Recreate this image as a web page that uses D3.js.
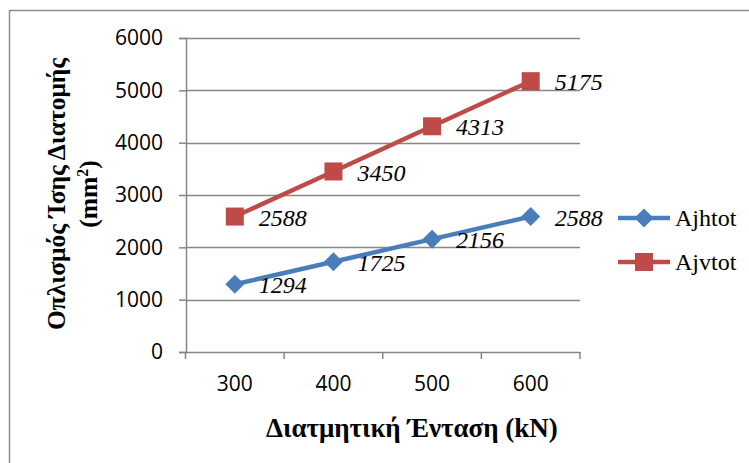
<!DOCTYPE html>
<html>
<head>
<meta charset="utf-8">
<script src="https://cdn.jsdelivr.net/npm/d3@7/dist/d3.min.js"></script>
<style>
  html, body { margin: 0; padding: 0; background: #fff; }
  svg { display: block; }
  .serif { font-family: "Liberation Serif", Tinos, "Times New Roman", Times, "DejaVu Serif", serif; }
  .sans { font-family: "Open Sans", sans-serif; }
</style>
</head>
<body>
<script>
// Shear force categories (kN) and reinforcement area series (mm²)
const categories = [300, 400, 500, 600];
const ajhtot = [1294, 1725, 2156, 2588];
const ajvtot = [2588, 3450, 4313, 5175];
const yTicks = [0, 1000, 2000, 3000, 4000, 5000, 6000];

const seriesNames = ["Ajhtot", "Ajvtot"];
const seriesColors = ["#4a7ebb", "#be4b48"];

const W = 749, H = 463;
const svg = d3.select("body").append("svg").attr("width", W).attr("height", H);

// outer chart frame
svg.append("rect")
  .attr("x", 9.5).attr("y", 10.5)
  .attr("width", 780).attr("height", 500)
  .attr("fill", "#fff").attr("stroke", "#8c8c8c").attr("stroke-width", 1.5);

const plot = { left: 186, right: 580, top: 38, bottom: 352 };

const x = d3.scaleBand().domain(categories).range([plot.left - 0.5, plot.right]).padding(0);
const y = d3.scaleLinear().domain([0, 6000]).range([plot.bottom, plot.top]);
const cx = d => x(d) + x.bandwidth() / 2;

const gridColor = "#868686";

// horizontal gridlines
svg.append("g").selectAll("line").data(yTicks.filter(t => t > 0)).join("line")
  .attr("x1", plot.left).attr("x2", plot.right)
  .attr("y1", d => Math.round(y(d)) + 0.5).attr("y2", d => Math.round(y(d)) + 0.5)
  .attr("stroke", gridColor).attr("stroke-width", 1.5);

// y axis
const yAxis = svg.append("g")
  .attr("transform", `translate(${plot.left},0)`)
  .call(d3.axisLeft(y).tickValues(yTicks).tickSize(7).tickPadding(16).tickFormat(d3.format("d")));
yAxis.attr("font-family", null);
yAxis.select(".domain").attr("stroke", gridColor).attr("stroke-width", 1.5);
yAxis.selectAll(".tick line").attr("stroke", gridColor).attr("stroke-width", 1.5);
yAxis.selectAll(".tick text")
  .attr("class", "sans").attr("font-size", 21).attr("fill", "#000");

// x axis
const xAxis = svg.append("g")
  .attr("transform", `translate(0,${plot.bottom})`)
  .call(d3.axisBottom(x).tickSize(0).tickPadding(24));
xAxis.attr("font-family", null);
xAxis.select(".domain").attr("stroke", gridColor).attr("stroke-width", 1.5);
xAxis.selectAll(".tick text")
  .attr("class", "sans").attr("font-size", 21).attr("fill", "#000");
// category boundary tick marks
const bounds = categories.map(c => x(c)).concat([x(categories[categories.length - 1]) + x.bandwidth()]);
xAxis.append("g").selectAll("line").data(bounds).join("line")
  .attr("x1", d => d).attr("x2", d => d)
  .attr("y1", 0).attr("y2", 7)
  .attr("stroke", gridColor).attr("stroke-width", 1.5);

// series lines, markers and value labels
const series = [ajhtot, ajvtot];
const line = d3.line().x((d, i) => cx(categories[i])).y(d => y(d));

function drawMarker(g, k, px, py) {
  if (k === 0) {
    const r = 9.5;
    g.append("path")
      .attr("d", `M${px},${py - r}L${px + r},${py}L${px},${py + r}L${px - r},${py}Z`)
      .attr("fill", seriesColors[k]);
  } else {
    const s = 18;
    g.append("rect")
      .attr("x", px - s / 2).attr("y", py - s / 2)
      .attr("width", s).attr("height", s)
      .attr("fill", seriesColors[k]);
  }
}

series.forEach((vals, k) => {
  const g = svg.append("g");
  g.append("path").datum(vals)
    .attr("d", line)
    .attr("fill", "none")
    .attr("stroke", seriesColors[k])
    .attr("stroke-width", 4.5)
    .attr("stroke-linejoin", "round");
  vals.forEach((v, i) => drawMarker(g, k, cx(categories[i]), y(v)));
  g.selectAll("text").data(vals).join("text")
    .attr("class", "serif")
    .attr("x", (d, i) => cx(categories[i]) + 24)
    .attr("y", d => y(d))
    .attr("dy", "0.38em")
    .attr("font-style", "italic")
    .attr("font-size", 24)
    .attr("fill", "#000")
    .text(d => d);
});

// legend
const legend = svg.append("g");
const legendY = [218, 262];
seriesNames.forEach((name, k) => {
  legend.append("line")
    .attr("x1", 618).attr("x2", 670)
    .attr("y1", legendY[k]).attr("y2", legendY[k])
    .attr("stroke", seriesColors[k]).attr("stroke-width", 4.5);
  drawMarker(legend, k, 644, legendY[k]);
  legend.append("text")
    .attr("class", "serif")
    .attr("x", 675).attr("y", legendY[k])
    .attr("dy", "0.35em")
    .attr("font-size", 24)
    .attr("fill", "#000")
    .text(name);
});

// axis titles
svg.append("text")
  .attr("class", "serif")
  .attr("x", 412).attr("y", 437)
  .attr("text-anchor", "middle")
  .attr("font-weight", "bold")
  .attr("font-size", 27)
  .attr("fill", "#000")
  .text("Διατμητική Ένταση (kN)");

const yTitle = svg.append("text")
  .attr("class", "serif")
  .attr("transform", "translate(65,194) rotate(-90)")
  .attr("text-anchor", "middle")
  .attr("font-weight", "bold")
  .attr("font-size", 25.5)
  .attr("fill", "#000");
yTitle.append("tspan").attr("x", 0).attr("y", 0).text("Οπλισμός Ίσης Διατομής");
const unit = yTitle.append("tspan").attr("x", 0).attr("y", 32).text("(mm");
unit.append("tspan").attr("font-size", 16).attr("dy", -9).text("2");
unit.append("tspan").attr("dy", 9).text(")");
</script>
</body>
</html>
